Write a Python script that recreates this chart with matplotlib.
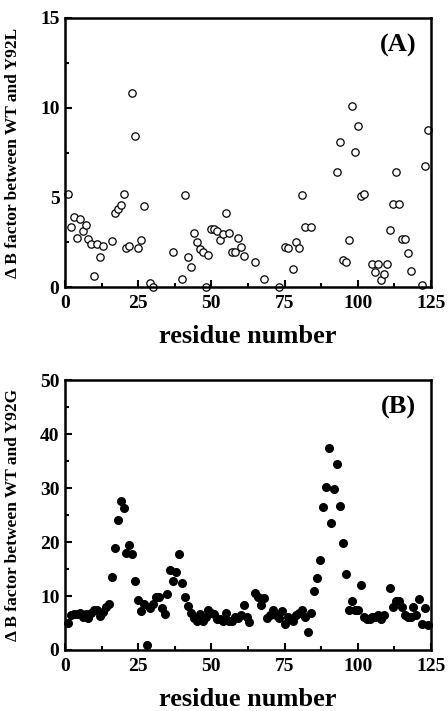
import matplotlib
matplotlib.use("Agg")
import matplotlib.pyplot as plt
from matplotlib.ticker import MultipleLocator

# Panel A: WT vs Y92L
res_a = [1, 2, 3, 4, 5, 6, 7, 8, 9, 10, 11, 12, 13, 16, 17, 18, 19, 20, 21, 22,
         23, 24, 25, 26, 27, 29, 30, 37, 40, 41, 42, 43, 44, 45, 46, 47, 48, 49,
         50, 51, 52, 53, 54, 55, 56, 57, 58, 59, 60, 61, 65, 68, 73, 75, 76, 78,
         79, 80, 81, 82, 84, 93, 94, 95, 96, 97, 98, 99, 100, 101, 102, 105, 106,
         107, 108, 109, 110, 111, 112, 113, 114, 115, 116, 117, 118, 122, 123, 124]
db_a = [5.2, 3.35, 3.9, 2.75, 3.8, 3.1, 3.45, 2.65, 2.4, 0.6, 2.4, 1.7, 2.3, 2.55,
        4.1, 4.35, 4.6, 5.2, 2.15, 2.3, 10.8, 8.44, 2.2, 2.6, 4.5, 0.2, 0.0, 1.97,
        0.46, 5.15, 1.7, 1.1, 3.0, 2.5, 2.1, 1.93, 0.0, 1.78, 3.25, 3.25, 3.1, 2.6,
        2.97, 4.15, 3.0, 1.93, 1.93, 2.75, 2.25, 1.75, 1.38, 0.45, 0.0, 2.23, 2.16,
        0.99, 2.53, 2.17, 5.13, 3.35, 3.35, 6.4, 8.07, 1.5, 1.41, 2.6, 10.08, 7.53,
        8.96, 5.07, 5.17, 1.3, 0.86, 1.26, 0.39, 0.7, 1.26, 3.2, 4.63, 6.4, 4.63,
        2.7, 2.66, 1.88, 0.9, 0.1, 6.75, 8.74]

# Panel B: WT vs Y92G
res_b = [1, 2, 3, 4, 5, 6, 7, 8, 9, 10, 11, 12, 13, 14, 15, 16, 17, 18, 19, 20,
         21, 22, 23, 24, 25, 26, 27, 28, 29, 30, 31, 32, 33, 34, 35, 36, 37, 38,
         39, 40, 41, 42, 43, 44, 45, 46, 47, 48, 49, 50, 51, 52, 53, 54, 55, 56,
         57, 58, 59, 60, 61, 62, 63, 65, 66, 67, 68, 69, 70, 71, 72, 73, 74, 75,
         76, 77, 78, 79, 80, 81, 82, 83, 84, 85, 86, 87, 88, 89, 90, 91, 92, 93,
         94, 95, 96, 97, 98, 99, 100, 101, 102, 103, 104, 105, 106, 107, 108, 109,
         111, 112, 113, 114, 115, 116, 117, 118, 119, 120, 121, 122, 123, 124]
db_b = [5.0, 6.4, 6.7, 6.7, 6.8, 6.2, 6.7, 5.9, 6.9, 7.5, 7.5, 6.3, 7.0, 8.0, 8.6,
        13.5, 18.9, 24.0, 27.6, 26.3, 17.9, 19.5, 17.7, 12.8, 9.3, 7.2, 8.6, 1.0,
        7.8, 8.5, 9.9, 9.9, 7.8, 6.7, 10.3, 14.9, 12.8, 14.4, 17.7, 12.4, 9.9, 8.2,
        6.8, 5.9, 5.4, 6.7, 5.3, 6.2, 7.4, 6.8, 6.7, 5.7, 5.7, 5.3, 6.9, 5.3, 5.3,
        6.1, 5.9, 6.4, 8.4, 6.2, 5.1, 10.6, 9.9, 8.3, 9.6, 5.9, 6.5, 7.5, 6.5, 5.9,
        7.2, 4.9, 6.2, 5.7, 5.4, 6.5, 6.9, 7.5, 6.2, 3.4, 6.9, 10.9, 13.3, 16.7,
        26.5, 30.2, 37.5, 23.6, 29.8, 34.4, 26.6, 19.9, 14.0, 7.5, 9.0, 7.5, 7.5,
        12.1, 6.1, 5.7, 5.7, 6.2, 6.1, 6.5, 5.7, 6.5, 11.4, 7.9, 9.1, 9.1, 7.9,
        6.4, 6.2, 6.2, 7.9, 6.4, 9.4, 4.8, 7.8, 4.6]

x_ticks = [0, 25, 50, 75, 100, 125]

plt.rcParams['font.family'] = ['Liberation Serif', 'DejaVu Serif']
plt.rcParams['font.weight'] = 'bold'

fig = plt.figure(figsize=(4.48, 7.11), dpi=100)
axA = fig.add_axes([0.1451, 0.5963, 0.8170, 0.3784])
axB = fig.add_axes([0.1451, 0.0858, 0.8170, 0.3797])


def style(ax, ymax, ymajor, yminor, ylabel, tag):
    ax.set_xlim(0, 125)
    ax.set_ylim(0, ymax)
    ax.set_xticks(x_ticks)
    ax.xaxis.set_minor_locator(MultipleLocator(12.5))
    ax.yaxis.set_major_locator(MultipleLocator(ymajor))
    ax.yaxis.set_minor_locator(MultipleLocator(yminor))
    ax.tick_params(which='both', direction='in', top=False, right=False, width=1.5)
    ax.tick_params(which='major', length=5)
    ax.tick_params(which='minor', length=3)
    ax.tick_params(axis='x', pad=6, labelsize=14)
    ax.tick_params(axis='y', pad=4, labelsize=14)
    for lab in ax.get_xticklabels() + ax.get_yticklabels():
        lab.set_fontweight('bold')
    for sp in ax.spines.values():
        sp.set_linewidth(1.8)
    ax.set_xlabel('residue number', fontsize=19, fontweight='bold', labelpad=9)
    ax.set_ylabel(ylabel, fontsize=12.5, fontweight='bold')
    ax.yaxis.set_label_coords(-0.12, 0.5)
    ax.text(0.96, 0.94, tag, transform=ax.transAxes, ha='right', va='top',
            fontsize=19, fontweight='bold')


axA.plot(res_a, db_a, linestyle='none', marker='o', markersize=5.3,
         markerfacecolor='white', markeredgecolor='black', markeredgewidth=0.9,
         clip_on=False)
style(axA, 15, 5, 2.5, '\u0394 B factor between WT and Y92L', '(A)')

axB.plot(res_b, db_b, linestyle='none', marker='o', markersize=5.5,
         markerfacecolor='black', markeredgecolor='black', clip_on=False)
style(axB, 50, 10, 5, '\u0394 B factor between WT and Y92G', '(B)')

fig.savefig('out.png', dpi=100)
